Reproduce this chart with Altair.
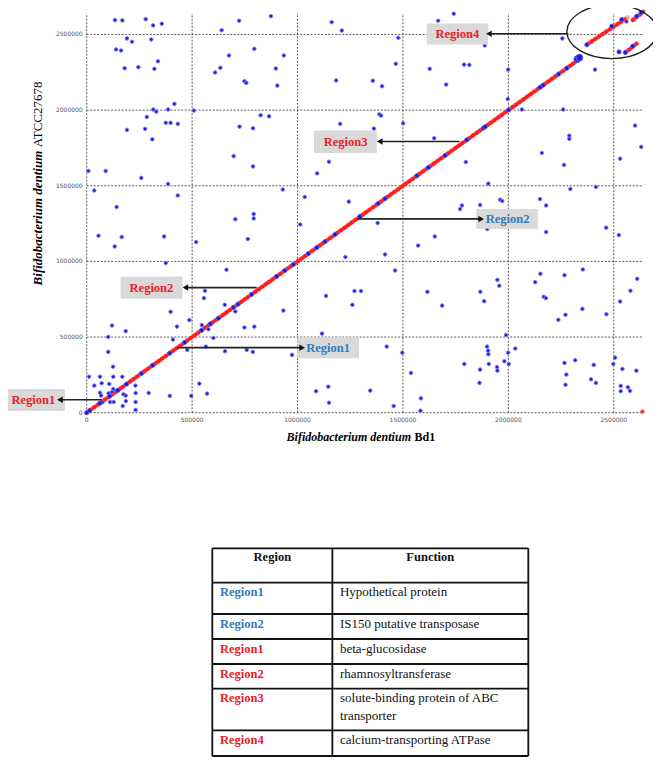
import altair as alt
import pandas as pd

# ---------------- data (genome coordinates in kb) ----------------
# off-diagonal blue hits: x = B. dentium Bd1 position, y = B. dentium ATCC27678 position
hit_x = [134, 169, 280, 315, 356, 191, 215, 306, 139, 163, 338, 180, 245, 321, 416, 316, 330, 386,
         285, 375, 398, 432, 191, 277, 311, 8, 90, 259, 386, 36, 432, 142, 508, 640, 723, 874, 795,
         675, 935, 634, 609, 897, 748, 757, 904, 825, 865, 725, 789, 697, 789, 930, 1034, 1093, 1149,
         792, 792, 705, 56, 166, 367, 133, 519, 764, 375, 663, 1013, 561, 556, 398, 487, 428, 655,
         705, 120, 185, 546, 577, 102, 601, 409, 748, 795, 933, 1135, 1116, 102, 565, 477, 656, 759,
         788, 974, 125, 11, 63, 126, 169, 36, 71, 107, 231, 126, 63, 68, 104, 120, 174, 185, 232,
         294, 394, 496, 534, 571, 111, 128, 186, 232, 171, 232, 74, 1088, 1146, 1149,
         1162, 1210, 1478, 1667, 1741, 1888, 2256, 1466, 1627, 1790, 1815, 1999, 2411, 2560, 1183,
         1357, 1401, 1705, 1388, 1396, 1202, 1362, 1501, 1648, 2064, 1997, 2260, 2601, 2630, 2530,
         2289, 2289, 2159, 2264, 1798, 2294, 2415, 1905, 2150, 2179, 1780, 1771, 1866, 1961, 1971,
         1243, 1380, 1900, 2179, 2464, 2524, 1651, 1572, 1227, 1415, 1463, 1270, 1301, 1260, 1616,
         1686, 1867, 1885, 1948, 1957, 2127, 2152, 2168, 2178, 2266, 2353, 2237, 2271, 2351, 2465,
         2530, 2579, 2611, 1989, 1423, 1497, 1899, 1904, 1905, 2033, 1999, 1791, 1907, 1981, 2002,
         1866, 1946, 1948, 1538, 1863, 2266, 2317, 2405, 2275, 2506, 2498, 2541, 2607, 2271, 2392,
         2415, 2533, 2533, 2567, 2577, 1345, 1456, 1585, 1583]
hit_y = [2595, 2593, 2601, 2560, 2571, 2474, 2452, 2467, 2401, 2394, 2323, 2277, 2284, 2273, 2041,
         2004, 1990, 2004, 1955, 1916, 1916, 1909, 1869, 1876, 1807, 1598, 1598, 1552, 1512, 1469,
         1436, 1360, 1997, 2528, 2591, 2621, 2405, 2361, 2361, 2280, 2249, 2275, 2191, 2180, 2162,
         1966, 1959, 1891, 1880, 1696, 1628, 1475, 1426, 1582, 1659, 1313, 1284, 1279, 1170, 1161,
         1165, 1099, 1128, 1148, 989, 945, 1244, 806, 757, 667, 612, 569, 713, 669, 576, 539, 579,
         552, 501, 494, 483, 563, 569, 675, 772, 523, 402, 437, 415, 406, 415, 402, 382, 304, 238,
         238, 238, 238, 179, 195, 190, 179, 157, 132, 113, 128, 137, 122, 113, 130, 130, 111, 111,
         192, 126, 71, 71, 77, 71, 44, 18, 69, 142, 172, 66,
         2581, 2526, 2478, 2591, 2637, 2427, 2474, 2306, 2273, 2301, 2299, 2268, 2268, 2586, 2196,
         2194, 2158, 2169, 1972, 1964, 1909, 1878, 1913, 1814, 2004, 2074, 2004, 1898, 1757, 1679,
         1831, 1810, 1717, 1638, 1657, 1479, 1492, 1514, 1412, 1370, 1370, 1346, 1373, 1408, 1399,
         1395, 1254, 1214, 1194, 1223, 1174, 1165, 1105, 1029, 1046, 940, 804, 804, 713, 799,
         708, 799, 737, 878, 839, 863, 918, 766, 757, 909, 947, 614, 647, 686, 651,
         735, 806, 885, 514, 437, 397, 437, 410, 387, 424, 397, 322, 322, 340, 322,
         285, 301, 278, 263, 197, 329, 347, 316, 252, 364, 322, 289, 278, 185, 221,
         197, 177, 142, 168, 144, 146, 44, 95, 13]

# blue hits lying on the collinear diagonal (x = y)
diag_hits = [0, 14, 62, 109, 147, 189, 260, 313, 394, 465, 545, 587, 624, 695, 718, 782, 901, 940,
             980, 1051, 1091, 1130, 1178, 1296, 1382, 1415, 1566, 1621, 1700, 1803, 1882, 1890, 2001,
             2151, 2165, 2238, 2277]
# dense cluster of hits at the end of the main diagonal
cluster_x = [2327, 2337]
cluster_y = [2337, 2347]
# blue hits on the rearranged segments in Region4
reg4_hit_x = [2372, 2491, 2538, 2609, 2630, 2525, 2555, 2590]
reg4_hit_y = [2432, 2555, 2599, 2621, 2645, 2385, 2381, 2423]
# red collinear segments (start / end)
seg_x0 = [0, 2375, 2590, 2555]
seg_y0 = [0, 2436, 2595, 2381]
seg_x1 = [2340, 2565, 2640, 2609]
seg_y1 = [2340, 2612, 2650, 2440]
# isolated red hit
red_dot_x = [2636]
red_dot_y = [7]

# axis ticks
tick_values = [0, 500000, 1000000, 1500000, 2000000, 2500000]

# annotations
ann_label = ["Region1", "Region2", "Region1", "Region2", "Region3", "Region4"]
ann_group = ["collinear", "collinear", "non-collinear", "non-collinear", "collinear", "collinear"]
ann_box_x0 = [-396, 161, 999, 1848, 1078, 1613]
ann_box_x1 = [-103, 454, 1292, 2140, 1376, 1904]
ann_box_y0 = [11, 753, 360, 1216, 1717, 2434]
ann_box_y1 = [157, 900, 499, 1346, 1865, 2573]
ann_text_x = [-253, 307, 1145, 1996, 1228, 1758]
ann_text_y = [84, 825, 430, 1282, 1792, 2503]
ann_tail_x = [73, 806, 427, 1284, 1768, 2285]
ann_tip_x = [-141, 454, 1036, 1885, 1376, 1894]
ann_arrow_y = [86, 827, 430, 1281, 1793, 2505]
ellipse_x = [2491]
ellipse_y = [2519]

# table
table_region = ["Region1", "Region2", "Region1", "Region2", "Region3", "Region4"]
table_group = ["non-collinear", "non-collinear", "collinear", "collinear", "collinear", "collinear"]
table_function = ["Hypothetical protein", "IS150 putative transposase", "beta-glucosidase",
                  "rhamnosyltransferase", "solute-binding protein of ABC\ntransporter",
                  "calcium-transporting ATPase"]

# ---------------- layout / style ----------------
RED = "#ea2027"
BLUE = "#2f7dbd"
SERIF = "Liberation Serif"
XS = alt.Scale(domain=[0, 2640], range=[78.7, 635.3])
YS = alt.Scale(domain=[0, 2640], range=[404.7, 5.3])
group_scale = alt.Scale(domain=["collinear", "non-collinear"], range=[RED, BLUE])

def X(f):
    return alt.X(f, type="quantitative", scale=XS, axis=None)

def Y(f):
    return alt.Y(f, type="quantitative", scale=YS, axis=None)

# grid
ticks_kb = [v / 1000 for v in tick_values]
grid = pd.DataFrame({"t": ticks_kb, "lo": 0, "hi": 2640, "lab": [str(v) for v in tick_values]})
vgrid = alt.Chart(grid).mark_rule(color="#333", strokeWidth=0.8, strokeDash=[2, 1.5]).encode(
    x=X("t"), y=Y("lo"), y2="hi")
hgrid = alt.Chart(grid).mark_rule(color="#333", strokeWidth=0.8, strokeDash=[2, 1.5]).encode(
    y=Y("t"), x=X("lo"), x2="hi")
xlab = alt.Chart(grid).mark_text(fontSize=6, font="DejaVu Sans", color="#555", dy=7.5,
                                 baseline="middle").encode(x=X("t"), y=Y("lo"), text="lab:N")
ylab = alt.Chart(grid).mark_text(fontSize=6, font="DejaVu Sans", color="#555", dx=-4, align="right",
                                 baseline="middle").encode(x=X("lo"), y=Y("t"), text="lab:N")

# red collinear segments
segs = pd.DataFrame({"x0": seg_x0, "y0": seg_y0, "x1": seg_x1, "y1": seg_y1})
red_glow = alt.Chart(segs).mark_rule(color="#ff8a8a", strokeWidth=4.6, strokeCap="round",
                                     opacity=0.8).encode(x=X("x0"), y=Y("y0"), x2="x1", y2="y1")
red_segs = alt.Chart(segs).mark_rule(color="#ff1c1c", strokeWidth=3.8, strokeCap="round",
                                     strokeDash=[1.0, 3.4]).encode(
    x=X("x0"), y=Y("y0"), x2="x1", y2="y1")
red_dot = alt.Chart(pd.DataFrame({"x": red_dot_x, "y": red_dot_y})).mark_point(
    filled=True, fill="#ff2424", stroke="#ff7070", strokeWidth=0.8, size=14, opacity=1).encode(
    x=X("x"), y=Y("y"))

pt_style = dict(filled=True, fill="#1c1cd8", stroke="#7f7fff", strokeWidth=1, size=13, opacity=1)
hits = alt.Chart(pd.DataFrame({"x": hit_x, "y": hit_y})).mark_point(**pt_style).encode(
    x=X("x"), y=Y("y"))
dpt_style = dict(filled=True, fill="#1414c8", stroke="#5a5aff", strokeWidth=1, size=17, opacity=1)
dhits = alt.Chart(pd.DataFrame({"x": diag_hits, "y": diag_hits})).mark_point(**dpt_style).encode(
    x=X("x"), y=Y("y"))
r4hits = alt.Chart(pd.DataFrame({"x": reg4_hit_x, "y": reg4_hit_y})).mark_point(**dpt_style).encode(
    x=X("x"), y=Y("y"))
cluster = alt.Chart(pd.DataFrame({"x": cluster_x, "y": cluster_y})).mark_point(
    filled=True, fill="#1c1cd8", stroke="#5a5aff", strokeWidth=1, size=45, opacity=1).encode(
    x=X("x"), y=Y("y"))

# annotations
ann = pd.DataFrame({"label": ann_label, "group": ann_group, "bx0": ann_box_x0, "bx1": ann_box_x1,
                    "by0": ann_box_y0, "by1": ann_box_y1, "tx": ann_text_x, "ty": ann_text_y,
                    "tail": ann_tail_x, "tip": ann_tip_x, "ay": ann_arrow_y})
ann["shape"] = ["triangle-left" if t < s else "triangle-right" for t, s in zip(ann["tip"], ann["tail"])]
ann["head"] = [t + 14 if t < s else t - 14 for t, s in zip(ann["tip"], ann["tail"])]
ann["line_end"] = ann["head"]
boxes = alt.Chart(ann).mark_rect(color="#d9d9d9").encode(x=X("bx0"), x2="bx1", y=Y("by0"), y2="by1")
ann_text = alt.Chart(ann).mark_text(font=SERIF, fontWeight="bold", fontSize=12.5,
                                    baseline="middle").encode(
    x=X("tx"), y=Y("ty"), text="label:N", color=alt.Color("group:N", scale=group_scale, legend=None))
arrow_line = alt.Chart(ann).mark_rule(color="#222", strokeWidth=1.6).encode(
    x=X("tail"), x2="line_end", y=Y("ay"))
arrow_head = alt.Chart(ann).mark_point(filled=True, color="#111", size=42, opacity=1).encode(
    x=X("head"), y=Y("ay"), shape=alt.Shape("shape:N", scale=None))
ellipse = alt.Chart(pd.DataFrame({"x": ellipse_x, "y": ellipse_y})).mark_point(
    shape="M-1,0A1,0.6,0,1,1,1,0A1,0.6,0,1,1,-1,0Z", size=8100, filled=False, stroke="#222",
    strokeWidth=1.4, opacity=1).encode(x=X("x"), y=Y("y"))

# axis titles (mixed italic / roman)
titles = pd.DataFrame({
    "x": [1538, 1555, -231, -231],
    "y": [-161, -161, 1732, 1755],
    "txt": ["Bifidobacterium dentium", "Bd1", "Bifidobacterium dentium", "ATCC27678"],
})
xt1 = alt.Chart(titles.iloc[[0]]).mark_text(font=SERIF, fontSize=12, fontStyle="italic",
                                            fontWeight="bold", align="right", baseline="middle").encode(
    x=X("x"), y=Y("y"), text="txt:N")
xt2 = alt.Chart(titles.iloc[[1]]).mark_text(font=SERIF, fontSize=12, fontWeight="bold",
                                            align="left", baseline="middle").encode(
    x=X("x"), y=Y("y"), text="txt:N")
yt1 = alt.Chart(titles.iloc[[2]]).mark_text(font=SERIF, fontSize=13, fontStyle="italic",
                                            fontWeight="bold", align="right", baseline="middle",
                                            angle=270).encode(x=X("x"), y=Y("y"), text="txt:N")
yt2 = alt.Chart(titles.iloc[[3]]).mark_text(font=SERIF, fontSize=13, align="left",
                                            baseline="middle", angle=270).encode(
    x=X("x"), y=Y("y"), text="txt:N")

# ---------------- table ----------------
row_heights = [34.4, 31.3, 25, 25, 24.7, 41.6, 25.7]
bounds = [0]
for h in row_heights:
    bounds.append(bounds[-1] + h)
TXS = alt.Scale(domain=[0, 1], range=[204.3, 520.3])
TYS = alt.Scale(domain=[0, bounds[-1]], range=[540.3, 748])
COL_SPLIT = 0.38

def TX(f):
    return alt.X(f, type="quantitative", scale=TXS, axis=None)

def TY(f):
    return alt.Y(f, type="quantitative", scale=TYS, axis=None)

hlines = pd.DataFrame({"y": bounds, "a": 0.0, "b": 1.0})
vlines = pd.DataFrame({"x": [0.0, COL_SPLIT, 1.0], "a": 0.0, "b": bounds[-1]})
t_h = alt.Chart(hlines).mark_rule(color="#111", strokeWidth=1.8).encode(x=TX("a"), x2="b", y=TY("y"))
t_v = alt.Chart(vlines).mark_rule(color="#111", strokeWidth=1.8).encode(y=TY("a"), y2="b", x=TX("x"))

header = pd.DataFrame({"x": [COL_SPLIT / 2, (1 + COL_SPLIT) / 2], "y": [bounds[0] + 2.5] * 2,
                       "txt": ["Region", "Function"]})
t_head = alt.Chart(header).mark_text(font=SERIF, fontSize=12.5, fontWeight="bold", color="#111",
                                     baseline="top").encode(x=TX("x"), y=TY("y"), text="txt:N")
rows = pd.DataFrame({"region": table_region, "group": table_group, "func": table_function,
                     "y": [b + 3.5 for b in bounds[1:-1]], "x1": 0.024, "x2": 0.404})
t_reg = alt.Chart(rows).mark_text(font=SERIF, fontSize=12.5, fontWeight="bold", align="left",
                                  baseline="top").encode(
    x=TX("x1"), y=TY("y"), text="region:N",
    color=alt.Color("group:N", scale=group_scale, legend=None))
t_fun = alt.Chart(rows).mark_text(font=SERIF, fontSize=13, align="left", baseline="top",
                                  color="#111", lineBreak="\n", lineHeight=18).encode(
    x=TX("x2"), y=TY("y"), text="func:N")

chart = alt.layer(
    vgrid, hgrid, xlab, ylab, red_glow, red_segs, red_dot, hits, dhits, r4hits, cluster,
    boxes, arrow_line, arrow_head, ann_text, ellipse, xt1, xt2, yt1, yt2,
    t_h, t_v, t_head, t_reg, t_fun,
).resolve_scale(x="independent", y="independent", color="independent", shape="independent").properties(
    width=645, height=752, padding=0, autosize=alt.AutoSizeParams(type="none")
).configure_view(stroke=None)

chart.save("out.html", embed_options={"renderer": "svg", "actions": False})
